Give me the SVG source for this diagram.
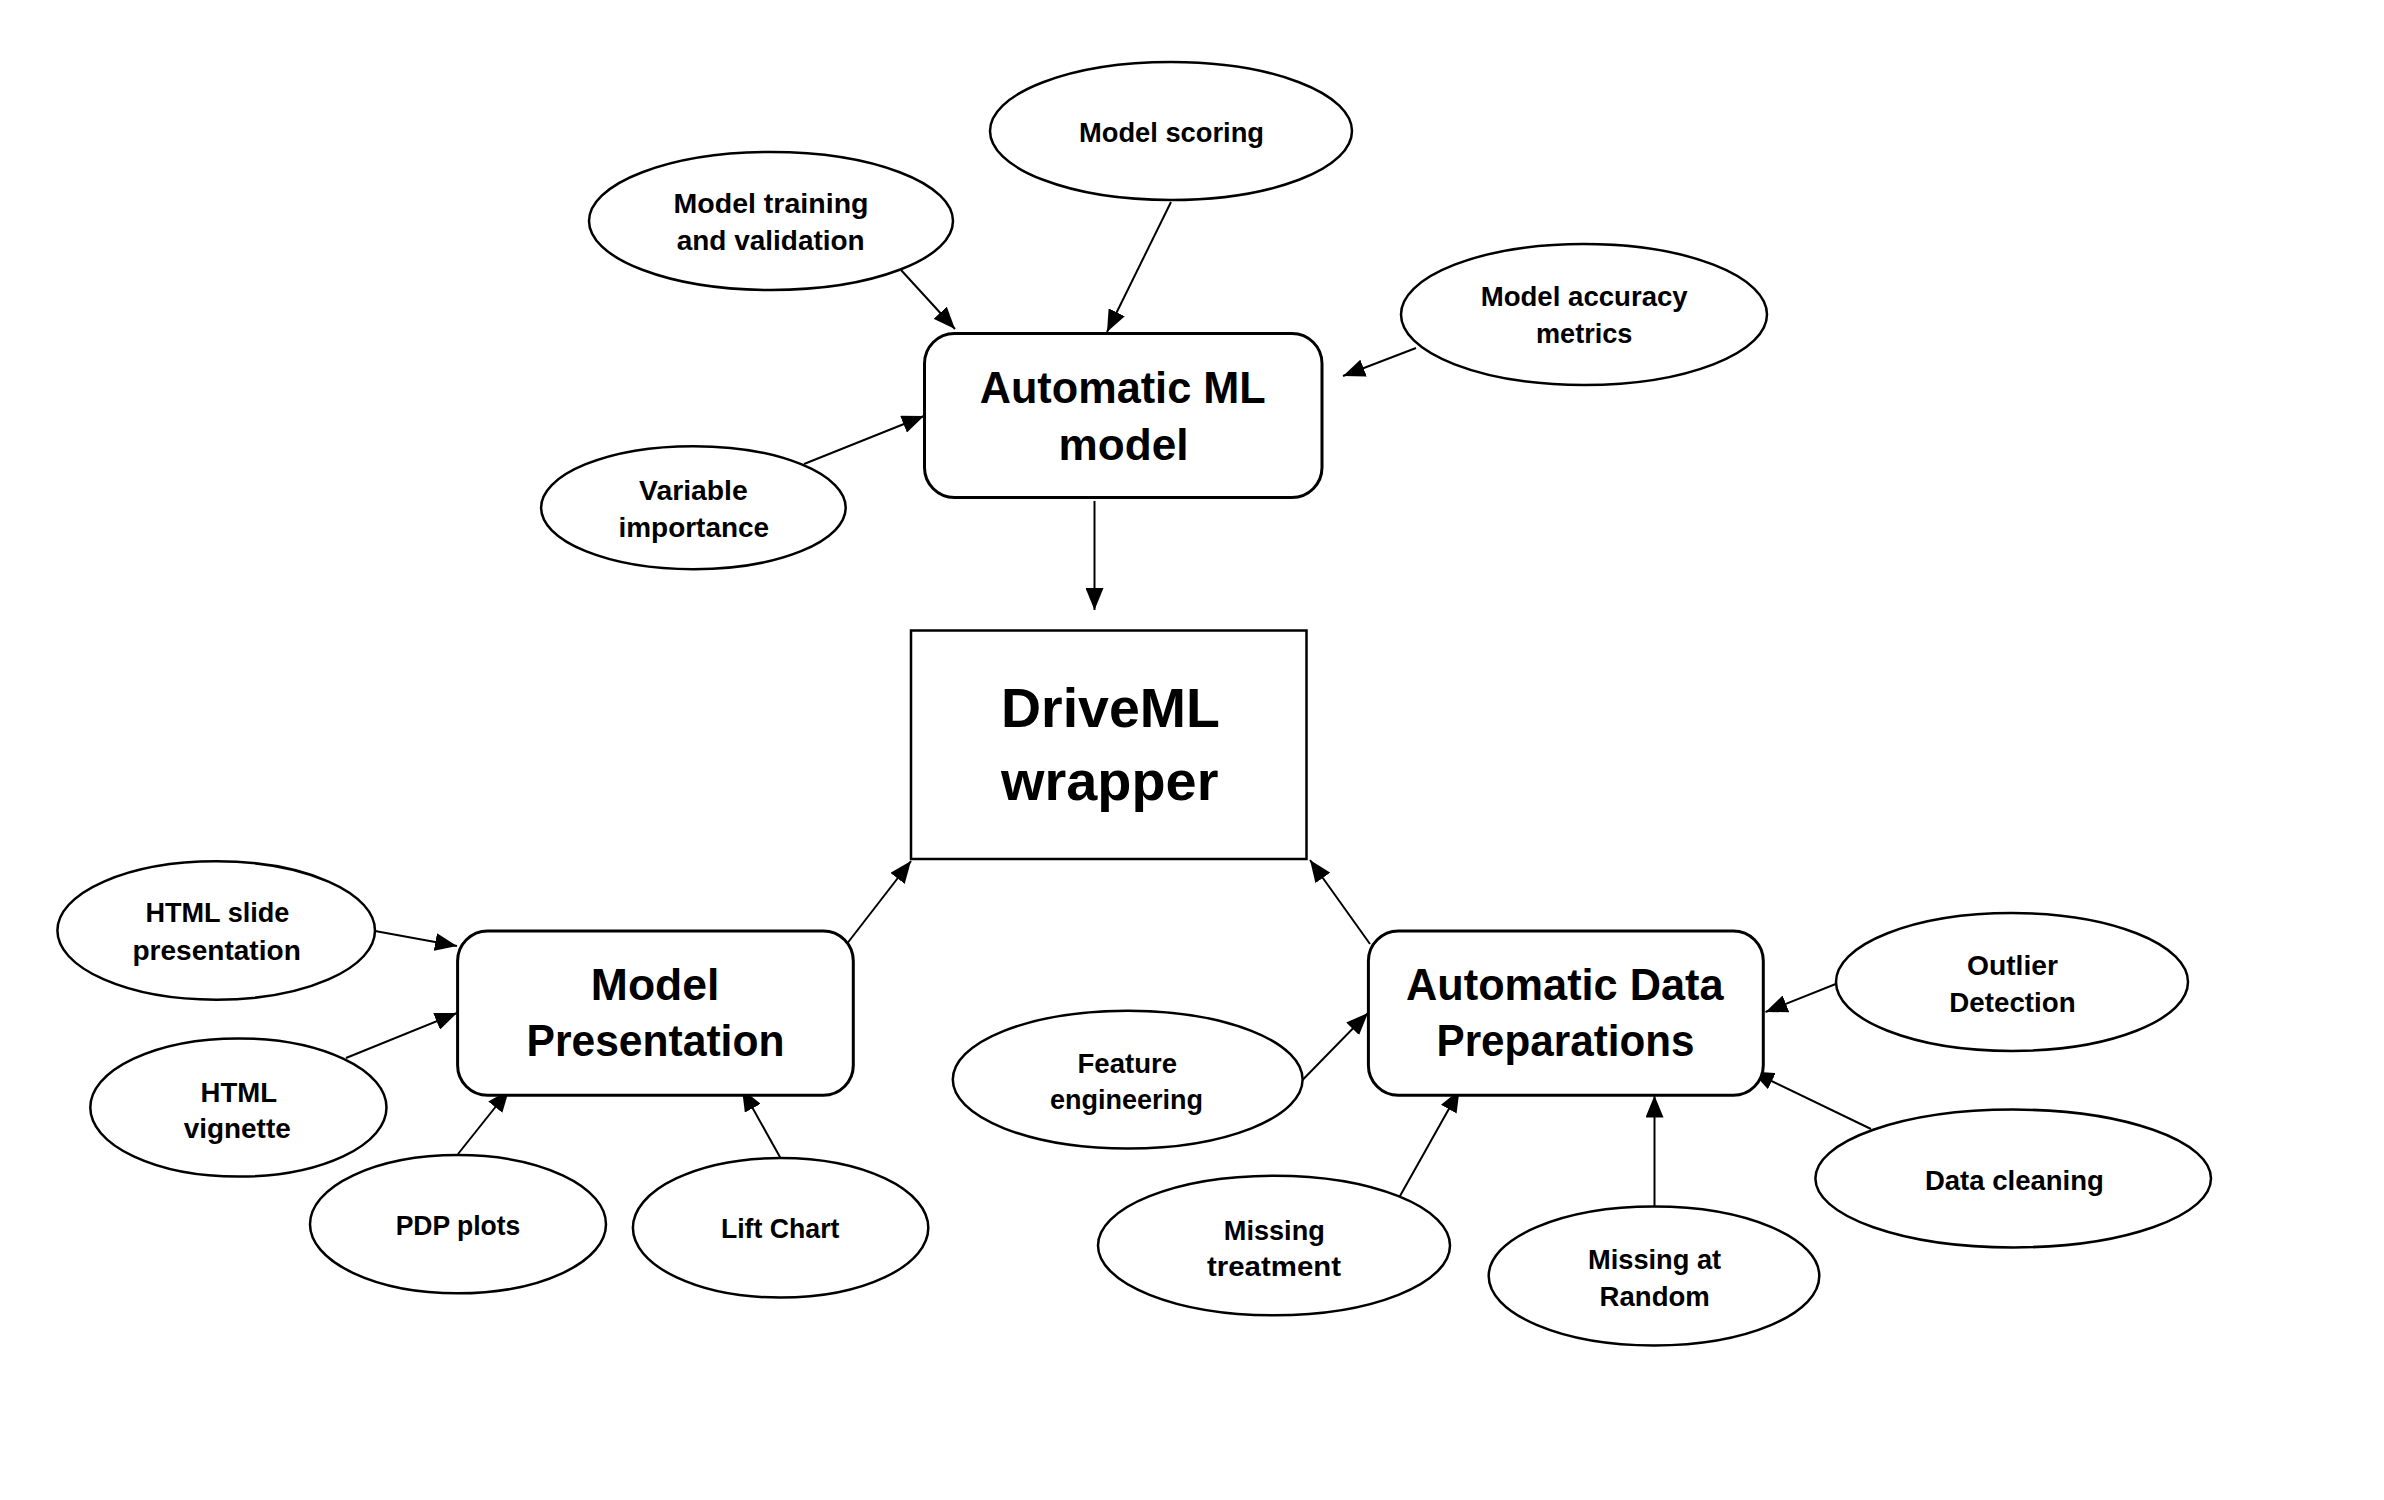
<svg xmlns="http://www.w3.org/2000/svg" width="2384" height="1500" viewBox="0 0 2384 1500">
<style>
.bg{fill:#fff}
.ell{fill:#fff;stroke:#000;stroke-width:2.5}
.box{fill:#fff;stroke:#000;stroke-width:3}
.sq{fill:#fff;stroke:#000;stroke-width:2.5}
.t{font-family:"Liberation Sans",Arial,sans-serif;font-weight:bold;font-size:27px;fill:#000;text-anchor:middle}
.tb{font-family:"Liberation Sans",Arial,sans-serif;font-weight:bold;font-size:45px;fill:#000;text-anchor:middle}
.td{font-family:"Liberation Sans",Arial,sans-serif;font-weight:bold;font-size:55px;fill:#000;text-anchor:middle}
.c{stroke:#000;stroke-width:2;fill:none;marker-end:url(#ah)}
</style>
<defs>
<marker id="ah" markerUnits="userSpaceOnUse" markerWidth="22" markerHeight="18" refX="22" refY="9" orient="auto">
<path d="M0,0 L22,9 L0,18 z" fill="#000"/>
</marker>
</defs>
<rect class="bg" x="0" y="0" width="2384" height="1500"/>
<g id="connectors">
<line class="c" x1="901" y1="270" x2="955" y2="329"/>
<line class="c" x1="1171" y1="202" x2="1107" y2="332"/>
<line class="c" x1="1416" y1="348" x2="1343" y2="376"/>
<line class="c" x1="804" y1="464" x2="924" y2="416"/>
<line class="c" x1="1094.5" y1="501" x2="1094.5" y2="610"/>
<line class="c" x1="846" y1="945" x2="911" y2="861"/>
<line class="c" x1="1370" y1="944" x2="1310" y2="860"/>
<line class="c" x1="375" y1="931" x2="457" y2="946"/>
<line class="c" x1="346" y1="1058" x2="457" y2="1013"/>
<line class="c" x1="458" y1="1154" x2="509" y2="1090"/>
<line class="c" x1="780.5" y1="1158" x2="742" y2="1089"/>
<line class="c" x1="1302.5" y1="1080" x2="1368" y2="1013"/>
<line class="c" x1="1400" y1="1196" x2="1459.5" y2="1090"/>
<line class="c" x1="1654.5" y1="1207" x2="1654.5" y2="1095.5"/>
<line class="c" x1="1871" y1="1129" x2="1752" y2="1071.5"/>
<line class="c" x1="1837" y1="983.5" x2="1765.5" y2="1012"/>
</g>
<g id="model-scoring">
<ellipse class="ell" cx="1171" cy="131" rx="181" ry="69"/>
<text class="t" x="1171.5" y="142" textLength="185" lengthAdjust="spacingAndGlyphs">Model scoring</text>
</g>
<g id="model-training">
<ellipse class="ell" cx="771" cy="221" rx="182" ry="69"/>
<text class="t" x="771" y="212.8" textLength="195" lengthAdjust="spacingAndGlyphs">Model training</text>
<text class="t" x="770.7" y="249.7" textLength="188" lengthAdjust="spacingAndGlyphs">and validation</text>
</g>
<g id="model-accuracy">
<ellipse class="ell" cx="1584" cy="314.5" rx="183" ry="70.5"/>
<text class="t" x="1584.2" y="306" textLength="207" lengthAdjust="spacingAndGlyphs">Model accuracy</text>
<text class="t" x="1584.2" y="343.4" textLength="96.5" lengthAdjust="spacingAndGlyphs">metrics</text>
</g>
<g id="variable-importance">
<ellipse class="ell" cx="693.4" cy="507.7" rx="152.3" ry="61.5"/>
<text class="t" x="693.4" y="499.8" textLength="108.7" lengthAdjust="spacingAndGlyphs">Variable</text>
<text class="t" x="693.8" y="536.7" textLength="150.7" lengthAdjust="spacingAndGlyphs">importance</text>
</g>
<g id="automatic-ml-model">
<rect class="box" x="924.5" y="333.5" width="397.5" height="164" rx="30" ry="30"/>
<text class="tb" x="1122.7" y="403.2" textLength="286" lengthAdjust="spacingAndGlyphs">Automatic ML</text>
<text class="tb" x="1123.5" y="460.1" textLength="130" lengthAdjust="spacingAndGlyphs">model</text>
</g>
<g id="driveml-wrapper">
<rect class="sq" x="911" y="630.5" width="395.5" height="228.5"/>
<text class="td" x="1110.5" y="726.5" textLength="219" lengthAdjust="spacingAndGlyphs">DriveML</text>
<text class="td" x="1109.7" y="800.2" textLength="217.4" lengthAdjust="spacingAndGlyphs">wrapper</text>
</g>
<g id="model-presentation">
<rect class="box" x="457.6" y="931" width="395.7" height="164.3" rx="30" ry="30"/>
<text class="tb" x="655.1" y="999.7" textLength="128.6" lengthAdjust="spacingAndGlyphs">Model</text>
<text class="tb" x="655.5" y="1056.1" textLength="258" lengthAdjust="spacingAndGlyphs">Presentation</text>
</g>
<g id="automatic-data-preparations">
<rect class="box" x="1368.4" y="931" width="394.9" height="164.3" rx="30" ry="30"/>
<text class="tb" x="1564.8" y="999.7" textLength="317.6" lengthAdjust="spacingAndGlyphs">Automatic Data</text>
<text class="tb" x="1565.5" y="1056.1" textLength="258" lengthAdjust="spacingAndGlyphs">Preparations</text>
</g>
<g id="html-slide">
<ellipse class="ell" cx="216.2" cy="930.5" rx="158.8" ry="69.2"/>
<text class="t" x="217.4" y="922" textLength="143.9" lengthAdjust="spacingAndGlyphs">HTML slide</text>
<text class="t" x="216.6" y="960" textLength="168.4" lengthAdjust="spacingAndGlyphs">presentation</text>
</g>
<g id="html-vignette">
<ellipse class="ell" cx="238.4" cy="1107.5" rx="148.1" ry="69.1"/>
<text class="t" x="238.8" y="1101.6" textLength="76.5" lengthAdjust="spacingAndGlyphs">HTML</text>
<text class="t" x="237.2" y="1138.4" textLength="107.1" lengthAdjust="spacingAndGlyphs">vignette</text>
</g>
<g id="pdp-plots">
<ellipse class="ell" cx="458" cy="1224.2" rx="148" ry="69.1"/>
<text class="t" x="458" y="1234.5" textLength="124.7" lengthAdjust="spacingAndGlyphs">PDP plots</text>
</g>
<g id="lift-chart">
<ellipse class="ell" cx="780.6" cy="1227.8" rx="147.7" ry="69.8"/>
<text class="t" x="780.2" y="1237.9" textLength="118.6" lengthAdjust="spacingAndGlyphs">Lift Chart</text>
</g>
<g id="feature-engineering">
<ellipse class="ell" cx="1127.7" cy="1079.6" rx="174.9" ry="68.9"/>
<text class="t" x="1127.3" y="1073.3" textLength="99.5" lengthAdjust="spacingAndGlyphs">Feature</text>
<text class="t" x="1126.6" y="1108.7" textLength="153" lengthAdjust="spacingAndGlyphs">engineering</text>
</g>
<g id="missing-treatment">
<ellipse class="ell" cx="1274" cy="1245.5" rx="176" ry="69.8"/>
<text class="t" x="1274.3" y="1240.3" textLength="101" lengthAdjust="spacingAndGlyphs">Missing</text>
<text class="t" x="1274" y="1276.1" textLength="134" lengthAdjust="spacingAndGlyphs">treatment</text>
</g>
<g id="missing-at-random">
<ellipse class="ell" cx="1654" cy="1276" rx="165.3" ry="69.4"/>
<text class="t" x="1654.6" y="1268.5" textLength="133.2" lengthAdjust="spacingAndGlyphs">Missing at</text>
<text class="t" x="1654.7" y="1306.2" textLength="110.2" lengthAdjust="spacingAndGlyphs">Random</text>
</g>
<g id="data-cleaning">
<ellipse class="ell" cx="2013.2" cy="1178.5" rx="197.8" ry="68.9"/>
<text class="t" x="2014.4" y="1190" textLength="179" lengthAdjust="spacingAndGlyphs">Data cleaning</text>
</g>
<g id="outlier-detection">
<ellipse class="ell" cx="2012" cy="982" rx="176" ry="68.9"/>
<text class="t" x="2012.5" y="974.8" textLength="91" lengthAdjust="spacingAndGlyphs">Outlier</text>
<text class="t" x="2012.5" y="1012.1" textLength="126.3" lengthAdjust="spacingAndGlyphs">Detection</text>
</g>
</svg>
